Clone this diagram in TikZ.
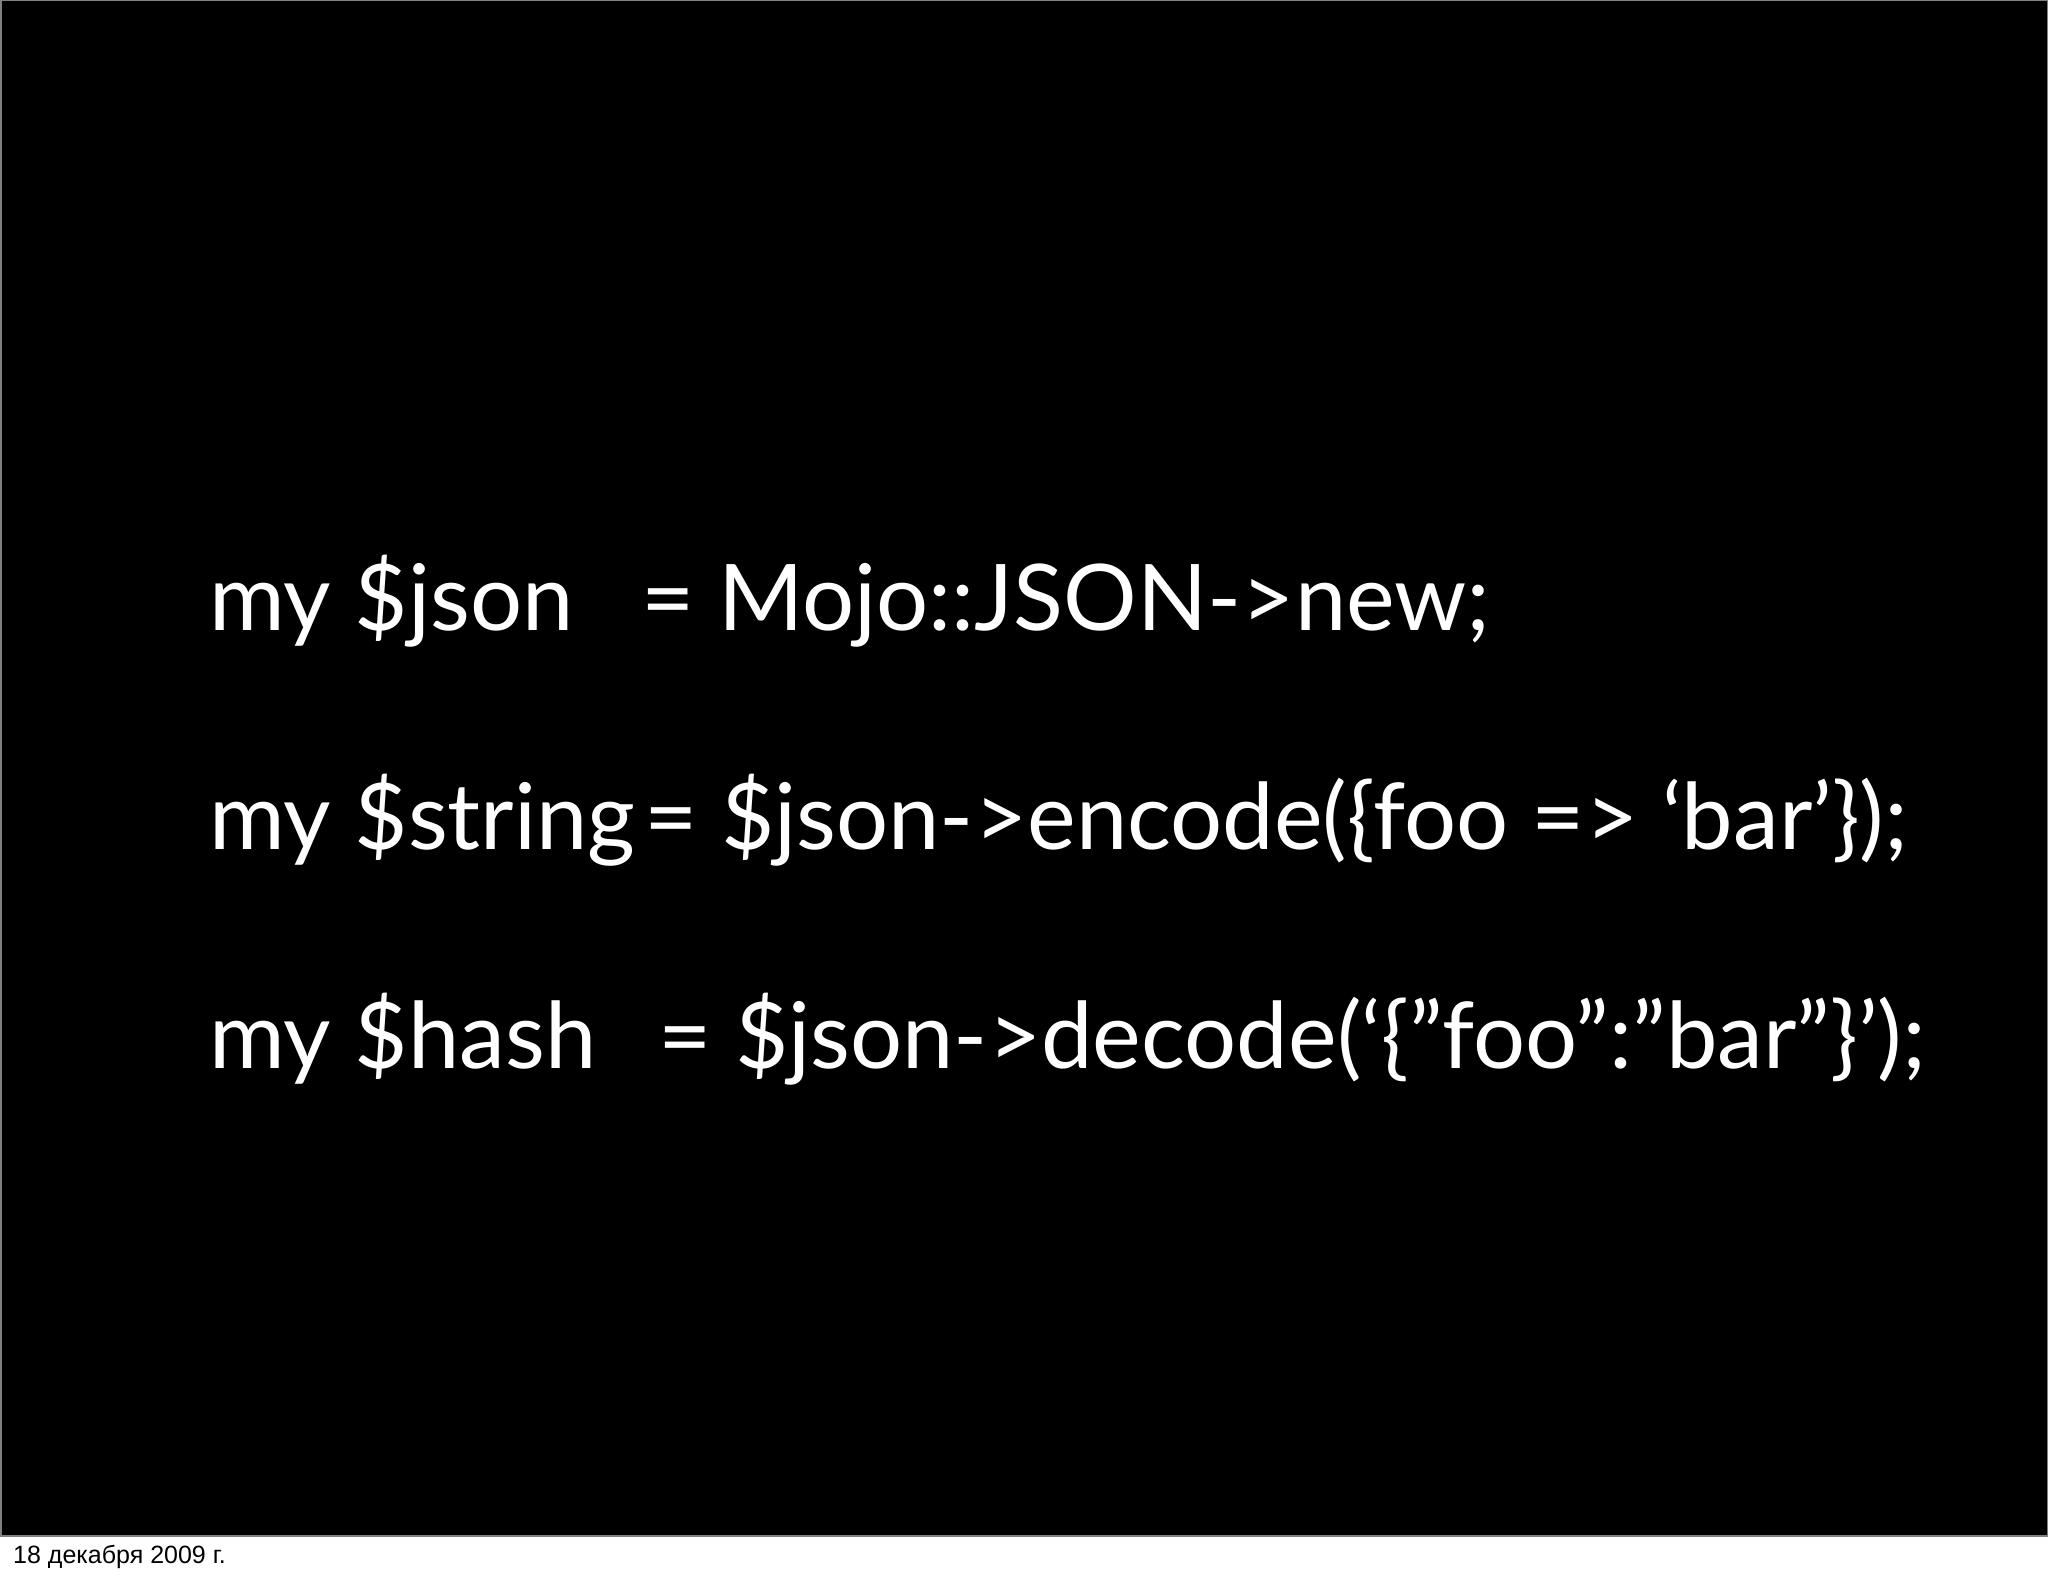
\documentclass[tikz,border=0pt]{standalone}
\usepackage{fontspec}
\setmainfont{Lato}
\newfontfamily\datefont{Liberation Sans}
\begin{document}
\begin{tikzpicture}[x=1pt,y=1pt,
  code/.style={anchor=base west,inner sep=0pt,text=white,font=\fontsize{92}{96}\selectfont}]
\useasboundingbox (0,0) rectangle (2048,-1576);
\fill[white] (0,0) rectangle (2048,-1576);
\fill[black] (0,0) rectangle (2048,-1536);
\draw[gray,line width=1.5] (0.75,-0.75) rectangle (2047.25,-1536);
\node[code] (l1) at (209,-630) {my \$json};
\node[code] (r1) at (641,-630) {= Mojo::JSON->new;};
\node[code] (l2) at (209,-849) {my \$string};
\node[code] (r2) at (644,-849) {= \$json->encode(\{foo => ‘bar’\});};
\node[code] (l3) at (209,-1068) {my \$hash};
\node[code] (r3) at (658,-1068) {= \$json->decode(‘\{\symbol{34}foo\symbol{34}:\symbol{34}bar\symbol{34}\}’);};
\node[anchor=base west,inner sep=0pt,font=\datefont\fontsize{25}{28}\selectfont] (d) at (13,-1563) {18 декабря 2009 г.};
\end{tikzpicture}
\end{document}
